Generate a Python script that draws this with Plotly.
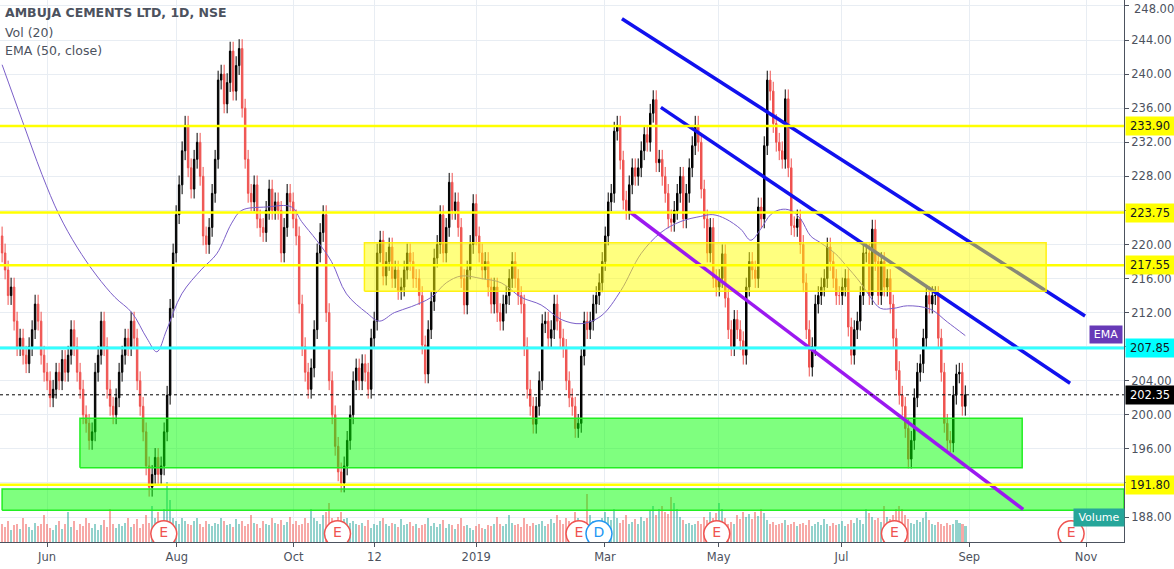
import plotly.graph_objects as go

close = [
219,217,214,215,211,208,209,207,206,208,210,213,211,207,205,204,202,203,205,204,206.5,205,207,210,208,205,203,200,199,197,
198,205,207,211,208,203,201,200,202,205,207,209,208,211,209,204,201,198,194,191.5,193,195,193,194,198,202.3,
212.5,219,223.5,227,231,234,229,226.5,230,232,228,221,220,222,226,230,239.3,240,236.5,239,242.7,238,241,243,236,230,226,225,227,223,222,221.4,224,226.5,
224,225,224,219,222,226,225,223,221,213,208,
205,203,205.5,210,219,221.4,223.5,212,204,200,196.3,193.3,
192,194,197,200,204,205.5,204,206,205,203,209,
211,219,220.5,216.3,218,219.7,216,217,214.6,215,217,219,218,216,216,214,208.2,204.8,210,213.3,218.4,220,223.5,219,222,227.3,224,225,222,216,212.9,217,220,
224.8,221,219,217,218,215,213,215,212,211,213,214,216,218,216,214,213,208,203,201,198.9,201,204,210.7,211,209,210,213,211,209,207.8,204,
202,201,198.4,199,206.9,211,210,211,213,214,215.5,
218,221,225,226,233.3,234,229.9,225.2,224,227,229,228,229,231,232.9,232,235.4,237,229.6,230,228,226,223,222.6,224,226,228,223,226,229,231.6,234,232,
226.5,223,219,222,216,215,216,218.9,213.7,210,208,211.2,210,208.7,207,215,218,217,216,224.4,223,231.6,239.3,238,234.2,232,231,230,
237.1,229,222.2,222,223,220,215.5,210,205.6,208,213,214,215,216,219.7,218,216,214,214,215,216,210.3,207,210,211,214,219,219,214,221.8,
218,214,218,215,216,213,209,205.2,202.3,201,198.4,194.8,197,202,205,206,209,214,213,214,214,209,205,199,197,196.7,202.3,204.8,205,201,202.35,
]
volume = [
3,2.5,3.5,2,2.8,3,2.2,4,3,2.5,2,3.2,2.6,3,4.5,3,2.4,2,2.8,3.5,
2.2,3,5,2.5,3.5,2,3,2.6,4,3.2,2.4,3,2,2.8,3.6,2.5,5.5,3,2.4,3,
2.6,3.2,4,2.5,3,3.8,2.4,3,4.5,3.2,6,4,5,3,5.5,10,7,4,3.5,3,
4,3.5,3,2.8,3.5,4,3,2.5,3.5,3,2.6,3.2,3,4,3.5,2.8,3,2.5,3.8,3,
3.5,2.6,3,4.5,3.2,3,2.4,3.5,3,2.8,4,3.2,3,3.6,2.8,3.4,4.2,3,3.5,2.8,
3,4,3.2,5.5,4,3.5,3,4.5,5,6.5,4,3.5,4.2,5,3.8,4,3.2,3.5,3,2.8,
3.2,2.6,3.6,2.4,3,2.8,3.5,4,3,2.6,3.2,3,2.5,3.8,2.8,3,3.4,2.6,3,2.4,
2.8,3,4,2.6,3.2,2.5,3,3.6,2.4,3,2.8,2.2,3,4,2.6,2.8,2.4,2,2.6,3,
2.4,2.2,2.8,2.6,3,4.2,3,2.6,3,4.5,3.2,2.8,3,2.5,4,3,2.6,3.2,2.8,3,
3.5,2.6,3,3.8,3.2,4.5,3.6,3,4,3.5,3,5,4,3.4,3.2,8,4.5,3.5,3,3.2,
4,5,4.2,3.6,5.5,4,3.2,3.6,4.5,3,3.4,3.8,3,4.2,3.5,4,5.2,6,4.5,5.5,
6,5,4.6,7.5,6.5,5.5,4.2,3.6,3,3.2,2.8,3,3.5,3,4.2,3.6,5,4,4.8,6.5,
5.5,4,3,3.4,3,4.5,3.8,5,4.2,4.6,3.8,5,4.4,5.5,4.8,3.6,3,3.4,2.8,3,
3.2,3.6,2.8,3,3.4,2.6,3,3.2,2.8,3.6,2.6,3,3.4,2.8,3.8,3,2.6,3.2,2.8,3,
3.5,2.6,3,3.6,3.2,4,3.6,3,5.5,4.8,4.2,3.6,4,3.4,6,4.2,3.8,4.5,5.5,6,
5.5,4.5,3.8,3.2,3,3.6,3.4,4,5,3.6,3,2.8,3.4,3,2.6,3.2,2.8,3,3.6,3.2,
3,2.6,3,3.4,3.2,3,3,3,3,3,3,3,3,3,3,3,
]
first_open = 221
wick = 1.1

# EMA(50): (pixel-x, price)
ema_px = [0,20,40,57,75,95,113,130,145,155,165,180,200,215,230,240,265,290,300,315,330,345,365,378,393,410,430,445,460,480,500,520,540,560,580,600,620,640,660,680,700,712,725,740,750,760,770,780,790,800,810,820,835,845,860,870,880,893,907,930,947,965]
ema_val = [241.1,234.6,228.2,223.5,219.7,216.3,213.8,212,209,207.4,210,214.2,217.1,218.9,222.5,224,224.4,224.4,222.7,220.5,218,214.2,212,211,212,212.7,213.8,215.5,216.3,216,215.5,213.8,212.9,211.2,210.7,211.6,214.6,218.9,221.4,222.7,223.3,223.5,223,221.8,220.5,221.8,223.5,224.1,224,223,221,220.2,218.9,217.6,215.5,213.8,212.5,212.5,212.8,212.4,210.9,209.3]

tick_px = [45,175,292,373,475,604,718,841,969,1086]
tick_text = ["Jun","Aug","Oct","12","2019","Mar","May","Jul","Sep","Nov"]

hlevels = [233.90, 223.75, 217.55, 191.80]
cyan_level = 207.85
last_price = 202.35
price_ticks = [188,192,196,200,204,208,212,216,220,224,228,232,236,240,244,248]
top_tick = 248

# drawings (pixel-x, price)
blue1 = ([621,1085],[246.5,211.6])
blue2 = ([660,1070],[236.1,203.7])
purple = ([628,1023],[223.9,188.9])
yellow_box = (363,1046,214.5,220.2)
green_box1 = (78,1022,193.8,199.6)
green_box2 = (0,1124,188.8,191.3)
events_px = [162,336,578,598,716,894,1071]
events_txt = ["E","E","E","D","E","E","E"]

N = len(close)
step = 965/(N-1)
def p2i(p): return p/step

x = list(range(N))
opens = [first_open]+close[:-1]
highs = [max(o,c)+wick for o,c in zip(opens,close)]
lows = [min(o,c)-wick for o,c in zip(opens,close)]
vol = volume[:N]
vcol = ["rgba(38,166,154,0.5)" if c>=o else "rgba(239,83,80,0.5)" for o,c in zip(opens,close)]
ecol = ["#2196f3" if t=="D" else "#ef5350" for t in events_txt]

fig = go.Figure()
fig.add_trace(go.Bar(x=x, y=vol, marker_color=vcol, marker_line_width=0, yaxis="y", width=0.8))
fig.add_trace(go.Scatter(x=[p2i(p) for p in events_px], y=[1.35]*len(events_px), mode="markers+text", yaxis="y",
    text=events_txt, textposition="middle center",
    textfont=dict(color=ecol, size=14, family="DejaVu Sans"),
    marker=dict(size=26, color="white", line=dict(color=ecol, width=1.5))))
fig.add_trace(go.Scatter(x=[p2i(p) for p in ema_px], y=ema_val, mode="lines", line=dict(color="#7b5fc9", width=1, shape="spline"), yaxis="y2"))
for (xs,ys) in [blue1, blue2]:
    fig.add_trace(go.Scatter(x=[p2i(v) for v in xs], y=ys, mode="lines", line=dict(color="#1111ee",width=3.5), yaxis="y2"))
def box(b, fill, line):
    x0,x1,y0,y1 = b
    fig.add_trace(go.Scatter(x=[p2i(x0),p2i(x1),p2i(x1),p2i(x0),p2i(x0)], y=[y0,y0,y1,y1,y0], mode="lines", fill="toself",
        fillcolor=fill, line=dict(color=line,width=1.5), yaxis="y2"))
box(yellow_box,"rgba(255,255,0,0.5)","rgba(255,240,0,0.9)")
box(green_box1,"rgba(0,255,0,0.5)","#22ee22")
box(green_box2,"rgba(0,255,0,0.5)","#22ee22")
fig.add_trace(go.Scatter(x=[p2i(v) for v in purple[0]], y=purple[1], mode="lines", line=dict(color="#9b19f0",width=3.5), yaxis="y2"))
fig.add_trace(go.Candlestick(x=x, open=opens, high=highs, low=lows, close=close, yaxis="y2",
    increasing=dict(line=dict(color="#000000",width=1), fillcolor="#000000"),
    decreasing=dict(line=dict(color="#ef5350",width=1), fillcolor="#ef5350"), whiskerwidth=0))

shapes = []
for lv in hlevels:
    shapes.append(dict(type="line", xref="paper", x0=0, x1=1, yref="y2", y0=lv, y1=lv, line=dict(color="#ffff00", width=2.5), layer="above"))
shapes.append(dict(type="line", xref="paper", x0=0, x1=1, yref="y2", y0=cyan_level, y1=cyan_level, line=dict(color="#33ffff", width=3), layer="above"))
shapes.append(dict(type="line", xref="paper", x0=0, x1=1, yref="y2", y0=last_price, y1=last_price, line=dict(color="#000000", width=1, dash="dot"), layer="above"))

ann = []
def lab(y, text, bg, fg):
    ann.append(dict(xref="paper", x=1, xanchor="left", yref="y2", y=y, text=text, showarrow=False, bgcolor=bg,
        font=dict(color=fg, size=11.5, family="DejaVu Sans"), width=46, height=16, xshift=1))
for lv in hlevels:
    lab(lv, f"{lv:.2f}", "#ffff00", "#131722")
lab(cyan_level, f"{cyan_level:.2f}", "#00ffff", "#131722")
lab(last_price, f"{last_price:.2f}", "#000000", "#ffffff")
ann.append(dict(xref="paper", x=1, xanchor="left", xshift=8, yref="paper", y=1.0, yanchor="top", text=f"{top_tick:.2f}",
    showarrow=False, font=dict(color="#4c525e", size=11.5, family="DejaVu Sans")))
ann.append(dict(xref="x", x=p2i(1106), yref="y2", y=209.4, text="EMA", showarrow=False, bgcolor="#673ab7",
    font=dict(color="white", size=11, family="DejaVu Sans"), width=30, height=15))
ann.append(dict(xref="x", x=p2i(1099), yref="y2", y=187.9, text="Volume", showarrow=False, bgcolor="#26a69a",
    font=dict(color="white", size=11, family="DejaVu Sans"), width=48, height=15))
for t,yy in [("<b>AMBUJA CEMENTS LTD, 1D, NSE</b>",0.995),("Vol (20)",0.958),("EMA (50, close)",0.925)]:
    ann.append(dict(xref="paper", yref="paper", x=0.003, y=yy, xanchor="left", yanchor="top", text=t, showarrow=False,
        font=dict(color="#4c525e", size=12.5, family="DejaVu Sans")))

fig.update_layout(
    width=1174, height=569, margin=dict(l=0, r=50, t=0, b=27),
    paper_bgcolor="white", plot_bgcolor="white", showlegend=False, bargap=0,
    shapes=shapes, annotations=ann,
    xaxis=dict(range=[-0.7, p2i(1124)], tickvals=[p2i(p) for p in tick_px], ticktext=tick_text,
        showgrid=True, gridcolor="#e8edf3", zeroline=False, rangeslider=dict(visible=False),
        showline=True, linecolor="#4c525e", ticks="outside", ticklen=4, tickcolor="#4c525e",
        tickfont=dict(color="#4c525e", size=11.5, family="DejaVu Sans")),
    yaxis=dict(range=[0,90], visible=False, showgrid=False, fixedrange=True),
    yaxis2=dict(overlaying="y", side="right", range=[185.07, 248.7], tickvals=price_ticks,
        ticktext=[f"{v:.2f}" for v in price_ticks], showgrid=True, gridcolor="#e8edf3", zeroline=False,
        showline=True, linecolor="#4c525e", ticks="outside", ticklen=4, tickcolor="#4c525e",
        tickfont=dict(color="#4c525e", size=11.5, family="DejaVu Sans")),
)
fig.write_html("out.html", config={"displayModeBar": False},
    post_script="document.body.style.margin='0';document.body.style.overflow='hidden';")
